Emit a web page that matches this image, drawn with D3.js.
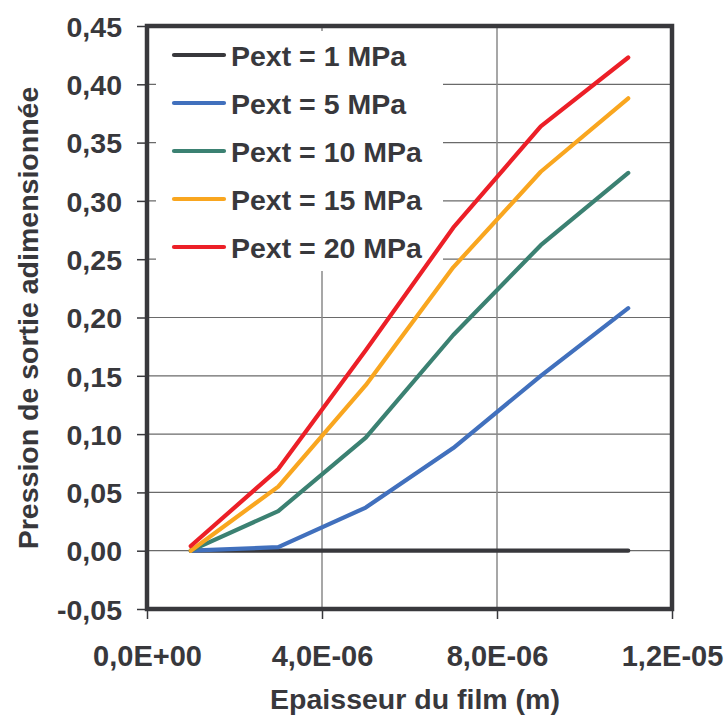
<!DOCTYPE html>
<html>
<head>
<meta charset="utf-8">
<script src="https://cdn.jsdelivr.net/npm/d3@7/dist/d3.min.js"></script>
<style>
  html, body { margin: 0; padding: 0; background: #fff; }
  svg text { font-family: "Liberation Sans", Arial, Helvetica, sans-serif; font-weight: bold; fill: #38383c; }
</style>
</head>
<body>
<svg id="chart" width="726" height="718"></svg>
<script>
// ---- data ----
const xValues = [1e-6, 3e-6, 5e-6, 7e-6, 9e-6, 1.1e-5];
const seriesNames = ["Pext = 1 MPa", "Pext = 5 MPa", "Pext = 10 MPa", "Pext = 15 MPa", "Pext = 20 MPa"];
const p1  = [0.000, 0.000, 0.000, 0.000, 0.000, 0.000];
const p5  = [0.000, 0.003, 0.037, 0.088, 0.150, 0.208];
const p10 = [0.000, 0.034, 0.097, 0.185, 0.262, 0.324];
const p15 = [0.000, 0.055, 0.142, 0.243, 0.325, 0.388];
const p20 = [0.004, 0.070, 0.172, 0.277, 0.364, 0.423];
const seriesColors = ["#38383c", "#4170bd", "#3b8172", "#f9a61f", "#ec1f27"];
const xTicks = [0, 4e-6, 8e-6, 1.2e-5];
const yTicks = [-0.05, 0, 0.05, 0.10, 0.15, 0.20, 0.25, 0.30, 0.35, 0.40, 0.45];
const xTitle = "Epaisseur du film (m)";
const yTitle = "Pression de sortie adimensionnée";

const allSeries = [p1, p5, p10, p15, p20];

// ---- layout ----
const svg = d3.select("#chart");
const L = 147, R = 672, T = 26, B = 609;
const x = d3.scaleLinear().domain([0, 1.2e-5]).range([L, R]);
const y = d3.scaleLinear().domain([-0.05, 0.45]).range([B, T]);

const fmtY = v => d3.format(".2f")(v).replace(".", ",").replace("−", "-");
const fmtX = v => {
  const s = v.toExponential(1); // e.g. 4.0e-6
  const [m, e] = s.split("e");
  const sign = e[0] === "-" ? "-" : "+";
  const ex = Math.abs(parseInt(e, 10)).toString().padStart(2, "0");
  return m.replace(".", ",") + "E" + sign + ex;
};

// gridlines
const grid = svg.append("g");
grid.selectAll("line.h").data(yTicks.filter(v => v > -0.05 && v < 0.45)).enter()
  .append("line")
  .attr("x1", L).attr("x2", R)
  .attr("y1", d => y(d)).attr("y2", d => y(d))
  .attr("stroke", "#6a6a6a").attr("stroke-width", 1.2);
grid.selectAll("line.v").data(xTicks.filter(v => v > 0 && v < 1.2e-5)).enter()
  .append("line")
  .attr("x1", d => x(d)).attr("x2", d => x(d))
  .attr("y1", T).attr("y2", B)
  .attr("stroke", "#8a8a8a").attr("stroke-width", 1.5);

// axes ticks via d3 axes
const yAxis = d3.axisLeft(y).tickValues(yTicks).tickSize(10).tickFormat(fmtY).tickPadding(14);
const gy = svg.append("g").attr("transform", `translate(${L},0)`).call(yAxis);
gy.select(".domain").remove();
gy.selectAll(".tick line").attr("stroke", "#38383c").attr("stroke-width", 1.5);
gy.selectAll(".tick text").attr("font-size", "28.5px").attr("x", -25).attr("dy", "0.36em")
  .style("font-family", "'Liberation Sans', Arial, sans-serif").style("font-weight", "bold").attr("fill", "#38383c");

const xAxis = d3.axisBottom(x).tickValues(xTicks).tickSize(10).tickFormat(fmtX);
const gx = svg.append("g").attr("transform", `translate(0,${B})`).call(xAxis);
gx.select(".domain").remove();
gx.selectAll(".tick line").attr("stroke", "#38383c").attr("stroke-width", 1.5);
gx.selectAll(".tick text").attr("font-size", "29px").attr("y", 57).attr("dy", 0)
  .style("font-family", "'Liberation Sans', Arial, sans-serif").style("font-weight", "bold").attr("fill", "#38383c");

// legend background (covers grid)
const legX = 156, legY = 31;
svg.append("rect").attr("x", legX).attr("y", legY).attr("width", 287).attr("height", 240).attr("fill", "#fff");

// series lines
const line = d3.line().x((d, i) => x(xValues[i])).y(d => y(d));
svg.append("g").selectAll("path").data(allSeries).enter()
  .append("path")
  .attr("d", d => line(d))
  .attr("fill", "none")
  .attr("stroke", (d, i) => seriesColors[i])
  .attr("stroke-width", 4.2)
  .attr("stroke-linejoin", "round")
  .attr("stroke-linecap", "round");

// frame
svg.append("rect").attr("x", L).attr("y", T).attr("width", R - L).attr("height", B - T)
  .attr("fill", "none").attr("stroke", "#38383c").attr("stroke-width", 4.5);

// legend entries
const leg = svg.append("g");
seriesNames.forEach((name, i) => {
  const ly = 55 + i * 48;
  leg.append("line").attr("x1", 174).attr("x2", 224).attr("y1", ly).attr("y2", ly)
    .attr("stroke", seriesColors[i]).attr("stroke-width", 4.2).attr("stroke-linecap", "round");
  leg.append("text").attr("x", 231).attr("y", ly + 11).attr("font-size", "28.5px").text(name);
});

// axis titles
svg.append("text").attr("x", 415).attr("y", 709).attr("text-anchor", "middle")
  .attr("font-size", "28.5px").text(xTitle);
svg.append("text").attr("transform", "translate(38,318) rotate(-90)").attr("text-anchor", "middle")
  .attr("font-size", "28.5px").text(yTitle);
</script>
</body>
</html>
